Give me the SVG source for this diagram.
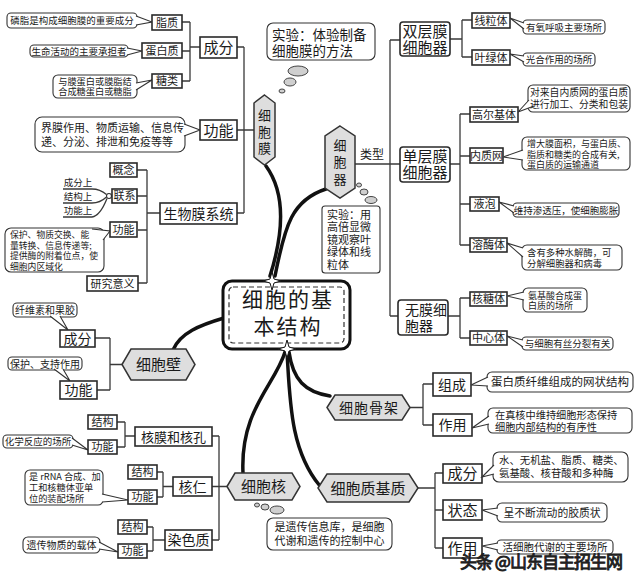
<svg xmlns="http://www.w3.org/2000/svg" width="640" height="582" viewBox="0 0 640 582">
<style>
text{font-family:"Noto Sans CJK SC","Noto Sans",sans-serif;fill:#1a1a1a}
.m{text-anchor:middle}
.bx{fill:#fff;stroke:#2a2a2a;stroke-width:1.6}
.cb{fill:#fff;stroke:#333;stroke-width:1.1}
.ln{fill:none;stroke:#3a3a3a;stroke-width:1.3}
.hx{fill:#dedede;stroke:#333;stroke-width:1.5}
.br{fill:none;stroke:#111;stroke-width:3.5;stroke-linecap:round}
.bb{fill:#cfcfcf;stroke:#444;stroke-width:1}
.f9{font-size:9px}.f95{font-size:9.5px}.f10{font-size:10px}.f11{font-size:11px}
.f12{font-size:12px}.f13{font-size:13px}.f14{font-size:14px}.f15{font-size:15px}
</style>
<rect width="640" height="582" fill="#fff"/>

<g id="connectors">
<path class="ln" d="M182,22H190M182,51H190M182,81H190M190,22V81M190,47H200M237,47H244M237,130H254M237,213H244M244,47V213M137,170H147M137,196H147M138,230H147M138,283H147M147,170V283M147,213H160"/>
<path class="ln" d="M63,189H92Q100,189 106.5,194.5M63,203H92Q100,203 106.5,197M63,217H92Q100,216 107,198.5"/>
<circle class="cb" cx="109" cy="196" r="2.5"/>
<path class="ln" d="M95,338H110M97,390H110M110,338V390M110,364.5H122"/>
<path class="ln" d="M117,422H125M117,447H125M125,422V447M125,436H135M157,472H163M157,497H163M163,472V497M163,486.5H173M147,527H153M147,551H153M153,527V551M153,540H165M212,436H219M212,486.5H227M212,540H219M219,436V540"/>
<path class="ln" d="M354,164H390M390,40V316M390,40H400M390,164H400M390,316H398M450,39H462M462,20V57M462,20H472M462,57H472M450,164H460M460,114V245M460,114H470M460,156H470M460,204H470M460,245H470M448,316H460M460,298V338M460,298H470M460,338H470"/>
<path class="ln" d="M410,407.5H423M423,384V425M423,384H433M423,425H433M418,488H435M435,473V548M435,473H443M435,510H443M435,548H443"/>
<path class="br" d="M270,276C283,235 287,195 266,166"/>
<path class="br" d="M275,276C285,225 292,200 326,189"/>
<path class="br" d="M224,318C200,325 180,333 173,350"/>
<path class="br" d="M285,352C275,385 240,410 243,473"/>
<path class="br" d="M287,352C290,400 290,450 320,486"/>
<path class="br" d="M289,352C293,380 305,392 330,396"/>
</g>

<g id="center">
<rect x="223" y="281" width="127" height="68" rx="9" fill="#fff" stroke="#111" stroke-width="3"/>
<rect x="229" y="287" width="115" height="56" rx="4" fill="none" stroke="#333" stroke-width="1.2" stroke-dasharray="5 3"/>
<text x="288" y="307" class="m" font-size="21" letter-spacing="2">细胞的基</text>
<text x="288" y="334" class="m" font-size="21" letter-spacing="2">本结构</text>
<path d="M272,272L274,279L281,281L274,283L272,290L270,283L263,281L270,279Z" fill="#fff" stroke="#111" stroke-width="1"/>
<path d="M287,340L289,347L296,349L289,351L287,358L285,351L278,349L285,347Z" fill="#fff" stroke="#111" stroke-width="1"/>
</g>

<g id="xibaomo">
<polygon class="hx" points="264.5,95 275,103 275,157 264.5,165 254,157 254,103"/>
<text class="m f13" x="264.5" y="120">细</text>
<text class="m f13" x="264.5" y="137">胞</text>
<text class="m f13" x="264.5" y="153">膜</text>
<ellipse class="bb" cx="282" cy="91" rx="3" ry="2"/>
<ellipse class="bb" cx="290" cy="82" rx="6" ry="4"/>
<ellipse class="bb" cx="298" cy="71" rx="10" ry="5"/>
<rect class="cb" x="267" y="23" width="108" height="37" rx="6"/>
<text x="272" y="40" font-size="13.5">实验：体验制备</text>
<text x="272" y="56" font-size="13.5">细胞膜的方法</text>
</g>

<g id="chengfen1">
<rect class="bx" x="200" y="37" width="37" height="21"/>
<text class="m f15" x="218.5" y="53">成分</text>
</g>
<g id="zhizhi">
<rect class="cb" x="7" y="13" width="130" height="15" rx="4"/>
<path class="cb" d="M136,16L152,22L136,25"/>
<text class="m f95" x="72" y="24">磷脂是构成细胞膜的重要成分</text>
<rect class="bx" x="152" y="15" width="30" height="15"/>
<text class="m f11" x="167" y="26.5">脂质</text>
</g>
<g id="danbaizhi">
<rect class="cb" x="30" y="45" width="98" height="12" rx="4"/>
<path class="cb" d="M127,48L142,51L127,55"/>
<text class="m f95" x="79" y="54.5">生命活动的主要承担者</text>
<rect class="bx" x="142" y="43" width="40" height="15"/>
<text class="m f11" x="162" y="54.5">蛋白质</text>
</g>
<g id="tanglei">
<rect class="cb" x="53" y="75" width="84" height="23" rx="5"/>
<path class="cb" d="M136,83L152,80L136,90"/>
<text class="m" font-size="9.2" x="95" y="84.5">与膜蛋白或膜脂结</text>
<text class="m" font-size="9.2" x="95" y="95">合成糖蛋白或糖脂</text>
<rect class="bx" x="152" y="74" width="30" height="14"/>
<text class="m f11" x="167" y="85">糖类</text>
</g>
<g id="gongneng1">
<rect class="cb" x="35" y="117" width="150" height="35" rx="7"/>
<path class="cb" d="M184,124L200,130L184,136"/>
<text class="f11" x="41" y="132">界膜作用、物质运输、信息传</text>
<text class="f11" x="41" y="146">递、分泌、排泄和免疫等等</text>
<rect class="bx" x="200" y="120" width="37" height="20"/>
<text class="m f15" x="218.5" y="135.5">功能</text>
</g>
<g id="shengwumo">
<rect class="bx" x="160" y="203" width="77" height="21"/>
<text class="m f14" x="198.5" y="218.5">生物膜系统</text>
</g>
<g id="gainian">
<rect class="bx" x="110" y="163" width="27" height="14"/>
<text class="m f11" x="123.5" y="174">概念</text>
</g>
<g id="lianxi">
<rect class="bx" x="112" y="189" width="25" height="14"/>
<text class="m f11" x="124.5" y="200">联系</text>
<text class="m f95" x="78" y="186">成分上</text>
<text class="m f95" x="78" y="200">结构上</text>
<text class="m f95" x="78" y="214">功能上</text>
</g>
<g id="gongneng2">
<rect class="cb" x="5" y="228" width="99" height="44" rx="6"/>
<path class="cb" d="M92,229L110,231L103,240"/>
<text font-size="8.8" x="10" y="238">保护、物质交换、能</text>
<text font-size="8.8" x="10" y="248.5">量转换、信息传递等;</text>
<text font-size="8.8" x="10" y="259">提供酶的附着位点，使</text>
<text font-size="8.8" x="10" y="269.5">细胞内区域化</text>
<rect class="bx" x="110" y="222" width="27" height="15"/>
<text class="m f11" x="123.5" y="233.5">功能</text>
</g>
<g id="yanjiu">
<rect class="bx" x="87" y="276" width="51" height="15"/>
<text class="m f11" x="112.5" y="287.5">研究意义</text>
</g>

<g id="xibaobi">
<polygon class="hx" points="122,364.5 131,349 186,349 195,364.5 186,380 131,380"/>
<text class="m f15" x="158.5" y="370">细胞壁</text>
</g>
<g id="bi-chengfen">
<rect class="cb" x="13" y="303" width="64" height="14" rx="4"/>
<path class="cb" d="M50,316L68,330L60,316"/>
<text class="m f10" x="45" y="314">纤维素和果胶</text>
<rect class="bx" x="60" y="330" width="35" height="17"/>
<text class="m f14" x="77.5" y="343.5">成分</text>
</g>
<g id="bi-gongneng">
<rect class="cb" x="8" y="357" width="74" height="13" rx="4"/>
<path class="cb" d="M54,369L70,381L63,369"/>
<text class="m f10" x="45" y="367.5">保护、支持作用</text>
<rect class="bx" x="60" y="381" width="37" height="18"/>
<text class="m f14" x="78.5" y="395">功能</text>
</g>

<g id="xibaoqi">
<polygon class="hx" points="340,126 355,136 355,188 340,198 325,188 325,136"/>
<text class="m f13" x="340" y="150">细</text>
<text class="m f13" x="340" y="167">胞</text>
<text class="m f13" x="340" y="184">器</text>
<text class="m f12" x="372" y="159">类型</text>
<ellipse class="bb" cx="359" cy="185" rx="2.5" ry="2"/>
<ellipse class="bb" cx="364" cy="192" rx="4" ry="3"/>
<ellipse class="bb" cx="371" cy="200" rx="6" ry="3.5"/>
<rect class="cb" x="322" y="206" width="58" height="67" rx="3"/>
<text font-size="11" x="327" y="218.5">实验：用</text>
<text font-size="11" x="327" y="231">高倍显微</text>
<text font-size="11" x="327" y="243.5">镜观察叶</text>
<text font-size="11" x="327" y="256">绿体和线</text>
<text font-size="11" x="327" y="268.5">粒体</text>
</g>
<g id="shuangceng">
<rect class="bx" x="400" y="22" width="50" height="34" rx="3"/>
<text class="m f15" x="425" y="37">双层膜</text>
<text class="m f15" x="425" y="53">细胞器</text>
</g>
<g id="xianliti">
<rect class="bx" x="472" y="13" width="38" height="15"/>
<text class="m f11" x="491" y="24.5">线粒体</text>
<rect class="cb" x="523" y="20" width="82" height="14" rx="4"/>
<path class="cb" d="M524,23L510,18L524,29"/>
<text class="m f95" x="564" y="30.5">有氧呼吸主要场所</text>
</g>
<g id="yelvti">
<rect class="bx" x="472" y="50" width="38" height="15"/>
<text class="m f11" x="491" y="61.5">叶绿体</text>
<rect class="cb" x="523" y="53" width="72" height="13" rx="4"/>
<path class="cb" d="M524,56L510,54L524,62"/>
<text class="m f95" x="559" y="63">光合作用的场所</text>
</g>
<g id="danceng">
<rect class="bx" x="400" y="147" width="50" height="35" rx="3"/>
<text class="m f15" x="425" y="162">单层膜</text>
<text class="m f15" x="425" y="178">细胞器</text>
</g>
<g id="gaoerji">
<rect class="bx" x="470" y="107" width="48" height="15"/>
<text class="m f11" x="494" y="118.5">高尔基体</text>
<rect class="cb" x="528" y="85" width="102" height="27" rx="5"/>
<path class="cb" d="M534,106L518,112L529,100"/>
<text class="m" font-size="9.8" x="579" y="96">对来自内质网的蛋白质</text>
<text class="m" font-size="9.8" x="579" y="108">进行加工、分类和包装</text>
</g>
<g id="neizhiwang">
<rect class="bx" x="470" y="148" width="33" height="15"/>
<text class="m f11" x="486.5" y="159.5">内质网</text>
<rect class="cb" x="522" y="137" width="108" height="33" rx="5"/>
<path class="cb" d="M523,150L503,157L523,160"/>
<text font-size="9" x="527" y="147">增大膜面积，与蛋白质、</text>
<text font-size="9" x="527" y="157.5">脂质和糖类的合成有关,</text>
<text font-size="9" x="527" y="168">蛋白质的运输通道</text>
</g>
<g id="yepao">
<rect class="bx" x="470" y="197" width="29" height="14"/>
<text class="m f11" x="484.5" y="208">液泡</text>
<rect class="cb" x="513" y="203" width="106" height="14" rx="4"/>
<path class="cb" d="M514,206L499,202L514,213"/>
<text class="m f95" x="566" y="213.5">维持渗透压，使细胞膨胀</text>
</g>
<g id="rongmeiti">
<rect class="bx" x="470" y="238" width="37" height="14"/>
<text class="m f11" x="488.5" y="249">溶酶体</text>
<rect class="cb" x="522" y="245" width="100" height="25" rx="5"/>
<path class="cb" d="M523,248L507,243L523,257"/>
<text font-size="9.4" x="527" y="256">含有多种水解酶，可</text>
<text font-size="9.4" x="527" y="267">分解细胞器和病毒</text>
</g>
<g id="wumo">
<rect class="bx" x="398" y="300" width="50" height="35" rx="3"/>
<text class="f14" x="405" y="315">无膜细</text>
<text class="f14" x="405" y="331">胞器</text>
</g>
<g id="hetangti">
<rect class="bx" x="470" y="292" width="37" height="14"/>
<text class="m f11" x="488.5" y="303">核糖体</text>
<rect class="cb" x="523" y="288" width="64" height="24" rx="5"/>
<path class="cb" d="M524,292L507,296L524,300"/>
<text class="f9" x="528" y="298.5">氨基酸合成蛋</text>
<text class="f9" x="528" y="309">白质的场所</text>
</g>
<g id="zhongxinti">
<rect class="bx" x="470" y="331" width="37" height="14"/>
<text class="m f11" x="488.5" y="342">中心体</text>
<rect class="cb" x="522" y="337" width="91" height="13" rx="4"/>
<path class="cb" d="M523,340L507,336L523,347"/>
<text class="m f95" x="567.5" y="347">与细胞有丝分裂有关</text>
</g>

<g id="gujia">
<polygon class="hx" points="327,407.5 335,395 402,395 410,407.5 402,420 335,420"/>
<text class="m f14" x="369" y="412.5" letter-spacing="1">细胞骨架</text>
</g>
<g id="zucheng">
<rect class="bx" x="433" y="373" width="38" height="23"/>
<text class="m f14" x="452" y="389.5">组成</text>
<rect class="cb" x="487" y="372" width="146" height="20" rx="5"/>
<path class="cb" d="M488,377L471,385L488,386"/>
<text class="m" font-size="11.5" x="560" y="386">蛋白质纤维组成的网状结构</text>
</g>
<g id="zuoyong1">
<rect class="bx" x="433" y="414" width="39" height="22"/>
<text class="m f14" x="452.5" y="430">作用</text>
<rect class="cb" x="488" y="408" width="144" height="25" rx="5"/>
<path class="cb" d="M489,416L472,428L489,424"/>
<text font-size="10.2" x="495" y="418.5">在真核中维持细胞形态保持</text>
<text font-size="10.2" x="495" y="430.5">细胞内部结构的有序性</text>
</g>

<g id="jizhi">
<polygon class="hx" points="318,488 327,474 409,474 418,488 409,502 327,502"/>
<text class="m f15" x="368" y="493.5">细胞质基质</text>
</g>
<g id="jz-chengfen">
<rect class="bx" x="443" y="464" width="39" height="19"/>
<text class="m f15" x="462.5" y="479">成分</text>
<rect class="cb" x="493" y="452" width="135" height="30" rx="6"/>
<path class="cb" d="M494,465L482,477L494,474"/>
<text font-size="10.4" x="499" y="464">水、无机盐、脂质、糖类、</text>
<text font-size="10.4" x="499" y="477">氨基酸、核苷酸和多种酶</text>
</g>
<g id="zhuangtai">
<rect class="bx" x="443" y="500" width="39" height="20"/>
<text class="m f15" x="462.5" y="515.5">状态</text>
<rect class="cb" x="497" y="503" width="110" height="19" rx="5"/>
<path class="cb" d="M498,508L482,510L498,516"/>
<text class="m" font-size="10.8" x="552" y="516.5">呈不断流动的胶质状</text>
</g>
<g id="zuoyong2">
<rect class="bx" x="443" y="538" width="39" height="20"/>
<text class="m f15" x="462.5" y="553.5">作用</text>
<rect class="cb" x="497" y="540" width="116" height="14" rx="4"/>
<path class="cb" d="M498,543L482,546L498,550"/>
<text class="m" font-size="10.5" x="555" y="550.5">活细胞代谢的主要场所</text>
</g>

<g id="xibaohe">
<polygon class="hx" points="227,486.5 235,473 292,473 300,486.5 292,500 235,500"/>
<text class="m f15" x="263.5" y="492">细胞核</text>
<ellipse class="bb" cx="257" cy="505" rx="2.5" ry="2"/>
<ellipse class="bb" cx="265" cy="507" rx="4" ry="3"/>
<ellipse class="bb" cx="277" cy="510" rx="7" ry="4"/>
<rect class="cb" x="267" y="518" width="125" height="32" rx="6"/>
<text class="m f11" x="329.5" y="531">是遗传信息库，是细胞</text>
<text class="m f11" x="329.5" y="545">代谢和遗传的控制中心</text>
</g>
<g id="hemo">
<rect class="bx" x="135" y="427" width="77" height="19"/>
<text class="m f13" x="173.5" y="441.5">核膜和核孔</text>
<rect class="bx" x="88" y="415" width="29" height="14"/>
<text class="m f11" x="102.5" y="426">结构</text>
<rect class="cb" x="3" y="435" width="70" height="13" rx="4"/>
<path class="cb" d="M72,438L88,450L72,445"/>
<text class="m f95" x="38" y="445">化学反应的场所</text>
<rect class="bx" x="88" y="440" width="29" height="14"/>
<text class="m f11" x="102.5" y="451">功能</text>
</g>
<g id="heren">
<rect class="bx" x="173" y="477" width="39" height="19"/>
<text class="m f14" x="192.5" y="491.5">核仁</text>
<rect class="bx" x="128" y="465" width="29" height="14"/>
<text class="m f11" x="142.5" y="476">结构</text>
<rect class="cb" x="25" y="470" width="78" height="35" rx="5"/>
<path class="cb" d="M102,494L128,500L102,502"/>
<text font-size="9.2" x="29" y="480">是 rRNA 合成、加</text>
<text font-size="9.2" x="29" y="491">工和核糖体亚单</text>
<text font-size="9.2" x="29" y="502">位的装配场所</text>
<rect class="bx" x="128" y="490" width="29" height="14"/>
<text class="m f11" x="142.5" y="501">功能</text>
</g>
<g id="ransezhi">
<rect class="bx" x="165" y="530" width="47" height="20"/>
<text class="m f14" x="188.5" y="545">染色质</text>
<rect class="bx" x="118" y="520" width="29" height="14"/>
<text class="m f11" x="132.5" y="531">结构</text>
<rect class="cb" x="23" y="537" width="77" height="16" rx="5"/>
<path class="cb" d="M99,542L118,552L99,549"/>
<text class="m f10" x="61.5" y="548.5">遗传物质的载体</text>
<rect class="bx" x="118" y="544" width="29" height="14"/>
<text class="m f11" x="132.5" y="555">功能</text>
</g>

<text x="460" y="568" font-size="17" fill="#fff" stroke="#222" stroke-width="0.9" textLength="163">头条 @山东自主招生网</text>
</svg>
